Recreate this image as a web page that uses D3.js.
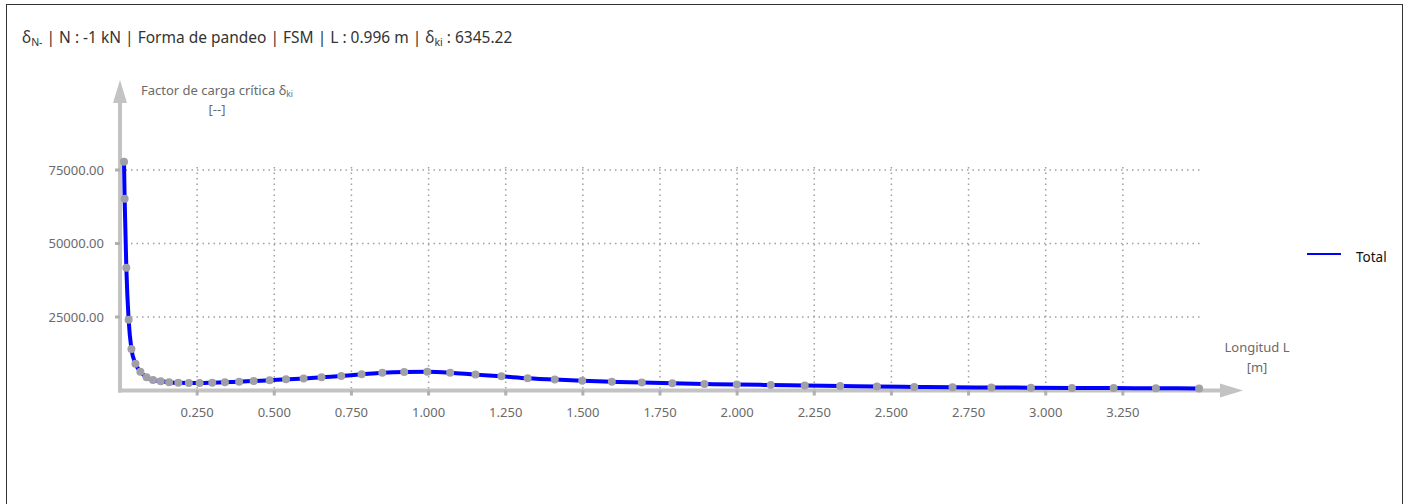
<!DOCTYPE html>
<html>
  <head>
    <meta charset="utf-8">
    <script src="https://d3js.org/d3.v7.min.js"></script>
    <style>
      body { margin: 0; background: white; font-family: "Noto Sans", sans-serif; }
      #frame {
        position: absolute; left: 6px; top: 4px; width: 1397px; height: 520px;
        border: 1.5px solid #333; box-sizing: border-box;
      }
    </style>
  </head>
  <body>
    <div id="frame"></div>
    <div id="chart"></div>
    <script>
      // data
      const lengths = [0.013, 0.015, 0.0205, 0.028, 0.037, 0.050, 0.066, 0.086, 0.107, 0.132,
        0.159, 0.189, 0.223, 0.258, 0.299, 0.340, 0.386, 0.433, 0.485, 0.538,
        0.595, 0.653, 0.717, 0.783, 0.850, 0.921, 0.996, 1.070, 1.152, 1.236,
        1.321, 1.409, 1.498, 1.594, 1.691, 1.790, 1.894, 1.999, 2.109, 2.219,
        2.334, 2.453, 2.574, 2.698, 2.824, 2.952, 3.085, 3.220, 3.357, 3.497]
      const factors = [77830, 65210, 41780, 24040, 14150, 9140, 6410, 4500, 3580, 3140,
        2800, 2600, 2550, 2560, 2660, 2800, 3000, 3240, 3480, 3820,
        4050, 4500, 4950, 5500, 6050, 6300, 6345, 6050, 5400, 4840,
        4180, 3700, 3340, 3000, 2680, 2450, 2220, 2000, 1880, 1700,
        1530, 1350, 1200, 1100, 1030, 960, 880, 820, 760, 700]
      const xTicks = [0.25, 0.5, 0.75, 1.0, 1.25, 1.5, 1.75, 2.0, 2.25, 2.5, 2.75, 3.0, 3.25]
      const yTicks = [25000, 50000, 75000]
      const seriesName = 'Total'

      const width = 1412, height = 504
      const svg = d3.select('#chart').append('svg')
        .attr('width', width).attr('height', height)
        .style('position', 'absolute').style('left', 0).style('top', 0)

      const x = d3.scaleLinear().domain([0, 3.5]).range([120, 1200])
      const y = d3.scaleLinear().domain([0, 75000]).range([390.5, 170])
      const axisCol = '#c3c3c3'
      const gridCol = '#a0a0a0'
      const labelCol = '#6a6a6a'

      // title
      const title = svg.append('text').attr('x', 22).attr('y', 43)
        .attr('font-size', 15.5).attr('fill', '#333')
      title.append('tspan').text('δ')
      title.append('tspan').attr('font-size', 10.5).attr('dy', 3).text('N-')
      title.append('tspan').attr('dy', -3).text(' | N : -1 kN | Forma de pandeo | FSM | L : 0.996 m | δ')
      title.append('tspan').attr('font-size', 10.5).attr('dy', 3).text('ki')
      title.append('tspan').attr('dy', -3).text(' : 6345.22')

      // grid
      const grid = svg.append('g')
      grid.selectAll('.hg').data(yTicks).join('line')
        .attr('x1', x(0)).attr('x2', x(3.5))
        .attr('y1', d => y(d)).attr('y2', d => y(d))
        .attr('stroke', gridCol).attr('stroke-width', 1.5).attr('stroke-dasharray', '1.5,4')
      grid.selectAll('.vg').data(xTicks).join('line')
        .attr('x1', d => x(d)).attr('x2', d => x(d))
        .attr('y1', y(75000) - 3).attr('y2', y(0))
        .attr('stroke', gridCol).attr('stroke-width', 1.5).attr('stroke-dasharray', '1.5,4')

      // axes with arrows
      const ax = svg.append('g')
      ax.append('line').attr('x1', x(0)).attr('x2', x(0)).attr('y1', y(0) + 2).attr('y2', 96)
        .attr('stroke', axisCol).attr('stroke-width', 4)
      ax.append('path').attr('d', `M${x(0)},80 L${x(0) + 7},103 L${x(0) - 7},103 Z`).attr('fill', axisCol)
      ax.append('line').attr('x1', x(0) - 2).attr('x2', 1228).attr('y1', y(0)).attr('y2', y(0))
        .attr('stroke', axisCol).attr('stroke-width', 4)
      ax.append('path').attr('d', `M1243,${y(0)} L1220,${y(0) - 7} L1220,${y(0) + 7} Z`).attr('fill', axisCol)

      // tick marks and labels
      ax.selectAll('.xt').data(xTicks).join('rect')
        .attr('x', d => x(d) - 1.5).attr('y', y(0)).attr('width', 3).attr('height', 5).attr('fill', '#b0b0b0')
      ax.selectAll('.yt').data(yTicks).join('rect')
        .attr('x', x(0) - 5).attr('y', d => y(d) - 1.5).attr('width', 5).attr('height', 3).attr('fill', '#b0b0b0')
      ax.selectAll('.xl').data(xTicks).join('text')
        .attr('x', d => x(d)).attr('y', 417).attr('text-anchor', 'middle')
        .attr('font-size', 13).attr('fill', labelCol).text(d3.format('.3f'))
      ax.selectAll('.yl').data(yTicks).join('text')
        .attr('x', 104).attr('y', d => y(d) + 4.5).attr('text-anchor', 'end')
        .attr('font-size', 13).attr('fill', labelCol).text(d3.format('.2f'))

      // axis titles
      const yt = svg.append('text').attr('x', 217).attr('y', 95).attr('text-anchor', 'middle')
        .attr('font-size', 13).attr('fill', labelCol)
      yt.append('tspan').text('Factor de carga crítica δ')
      yt.append('tspan').attr('font-size', 8.5).attr('dy', 2).text('ki')
      svg.append('text').attr('x', 217).attr('y', 114).attr('text-anchor', 'middle')
        .attr('font-size', 13).attr('fill', labelCol).text('[--]')
      svg.append('text').attr('x', 1257).attr('y', 352).attr('text-anchor', 'middle')
        .attr('font-size', 13).attr('fill', labelCol).text('Longitud L')
      svg.append('text').attr('x', 1257).attr('y', 372).attr('text-anchor', 'middle')
        .attr('font-size', 13).attr('fill', labelCol).text('[m]')

      // series
      const data = lengths.map((l, i) => ({l, v: factors[i]}))
      const line = d3.line().x(d => x(d.l)).y(d => y(d.v)).curve(d3.curveMonotoneX)
      svg.append('path').datum(data).attr('d', line)
        .attr('fill', 'none').attr('stroke', '#0000ff').attr('stroke-width', 4)
      svg.selectAll('.pt').data(data).join('circle')
        .attr('cx', d => x(d.l)).attr('cy', d => y(d.v)).attr('r', 4)
        .attr('fill', '#a0a0a6')

      // legend
      svg.append('line').attr('x1', 1307).attr('x2', 1341).attr('y1', 254).attr('y2', 254)
        .attr('stroke', '#0000ff').attr('stroke-width', 2)
      svg.append('text').attr('x', 1356).attr('y', 262).attr('font-size', 13.5).attr('fill', '#111').text(seriesName)
    </script>
  </body>
</html>
